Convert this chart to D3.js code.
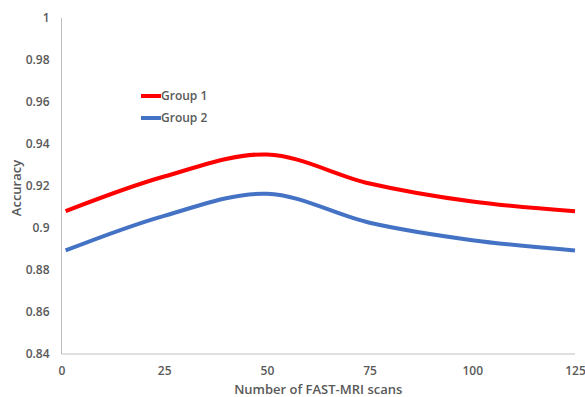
<!DOCTYPE html>
<html>
<head>
<meta charset="utf-8">
<script src="https://cdn.jsdelivr.net/npm/d3@7"></script>
<style>
  html, body { margin: 0; padding: 0; background: #ffffff; }
  svg { display: block; }
  text { font-family: "Open Sans", "Liberation Sans", sans-serif; fill: #595959; }
</style>
</head>
<body>
<svg id="chart" width="585" height="397"></svg>
<script>
// Accuracy versus number of FAST-MRI scans
const scans = [1, 25, 50, 75, 100, 125];
const group1 = [0.908, 0.9245, 0.935, 0.9212, 0.9126, 0.908];
const group2 = [0.8893, 0.9058, 0.9163, 0.9025, 0.8942, 0.8893];
const seriesNames = ["Group 1", "Group 2"];
const seriesColors = ["#ff0000", "#4472c4"];
const xTicks = [0, 25, 50, 75, 100, 125];
const yTicks = [0.84, 0.86, 0.88, 0.9, 0.92, 0.94, 0.96, 0.98, 1];

const svg = d3.select("#chart");

const x = d3.scaleLinear().domain([0, 125]).range([61.5, 575]);
const y = d3.scaleLinear().domain([0.84, 1]).range([354, 18]);

// axes: no tick marks, light grey domain lines
const xAxis = d3.axisBottom(x).tickValues(xTicks).tickSize(0).tickPadding(12).tickFormat(d3.format("d"));
const yAxis = d3.axisLeft(y).tickValues(yTicks).tickSize(0).tickPadding(12).tickFormat(d => String(+d.toFixed(2)));

const gx = svg.append("g").attr("transform", `translate(0,${y(0.84)})`).call(xAxis);
const gy = svg.append("g").attr("transform", `translate(${x(0)},0)`).call(yAxis);

[gx, gy].forEach(g => {
  g.select(".domain").attr("stroke", "#bfbfbf").attr("stroke-width", 1);
  g.selectAll(".tick text")
    .attr("fill", "#595959")
    .style("font-family", '"Open Sans", "Liberation Sans", sans-serif')
    .style("font-size", "12px")
    .style("font-weight", "600");
});
gy.select(".domain").attr("d", `M0,${y(1)}V${y(0.84)}`);
gx.select(".domain").attr("d", `M${x(0)},0H${x(125)}`);

// series lines, smoothed
const line = d3.line()
  .x(d => x(d[0]))
  .y(d => y(d[1]))
  .curve(d3.curveCardinal.tension(0));

[group1, group2].forEach((vals, i) => {
  svg.append("path")
    .datum(scans.map((s, j) => [s, vals[j]]))
    .attr("fill", "none")
    .attr("stroke", seriesColors[i])
    .attr("stroke-width", 4)
    .attr("d", line);
});

// legend
const legend = svg.append("g");
seriesNames.forEach((name, i) => {
  const ly = 96 + i * 22;
  legend.append("line")
    .attr("x1", 141).attr("x2", 161)
    .attr("y1", ly).attr("y2", ly)
    .attr("stroke", seriesColors[i]).attr("stroke-width", 4);
  legend.append("text")
    .attr("x", 161).attr("y", ly)
    .attr("dy", "0.35em")
    .style("font-size", "12px")
    .style("font-weight", "600")
    .text(name);
});

// axis titles
svg.append("text")
  .attr("x", (x(0) + x(125)) / 2)
  .attr("y", 389)
  .attr("dy", "0.35em")
  .attr("text-anchor", "middle")
  .style("font-size", "13px")
  .style("font-weight", "600")
  .text("Number of FAST-MRI scans");

svg.append("text")
  .attr("transform", `translate(16,${(y(0.84) + y(1)) / 2 + 2}) rotate(-90)`)
  .attr("dy", "0.35em")
  .attr("text-anchor", "middle")
  .style("font-size", "13px")
  .style("font-weight", "600")
  .text("Accuracy");
</script>
</body>
</html>
